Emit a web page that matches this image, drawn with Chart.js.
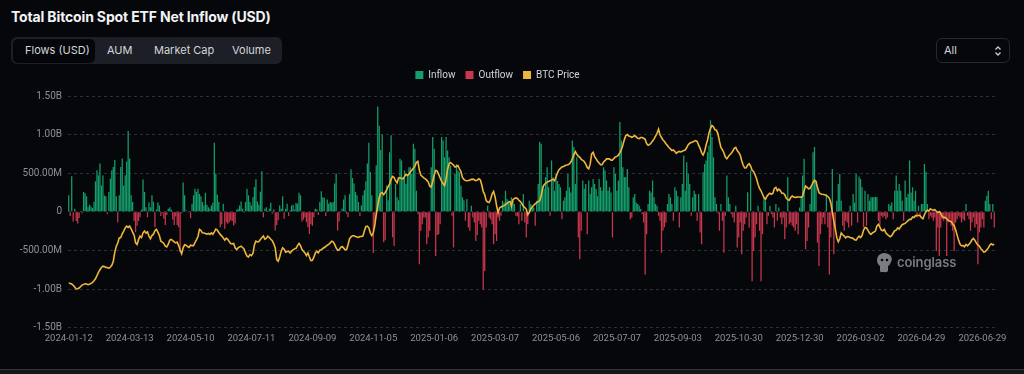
<!DOCTYPE html>
<html>
<head>
<meta charset="utf-8">
<script src="https://cdn.jsdelivr.net/npm/chart.js@4.4.1/dist/chart.umd.min.js"></script>
<style>
  html, body { margin: 0; padding: 0; background: #06070a; }
  body { width: 1024px; height: 374px; position: relative; overflow: hidden; font-family: Inter, Roboto, "Noto Sans", sans-serif; }
  #title { position: absolute; left: 11px; top: 8px; color: #f2f3f5; font-weight: 700; font-size: 14px; letter-spacing: -0.15px; white-space: nowrap; }
  #tabs { position: absolute; left: 11px; top: 37px; width: 271px; height: 27px; background: #1c1f25; border-radius: 6px; }
  .tab { position: absolute; top: 0; height: 27px; line-height: 27px; font-size: 11px; color: #d3d6dc; white-space: nowrap; }
  #tabSel { position: absolute; left: 1.5px; top: 1.5px; width: 82px; height: 24px; background: #050609; border-radius: 5px; }
  #sel { position: absolute; left: 936px; top: 38px; width: 72px; height: 23px; border: 1px solid #25282e; border-radius: 6px; }
  #sel span { position: absolute; left: 7px; top: 0; line-height: 23px; font-size: 11px; color: #d3d6dc; }
  #sel svg { position: absolute; right: 7px; top: 6px; }
  #wrap { position: absolute; left: 0; top: 60px; width: 1024px; height: 289px; }
  #wm { position: absolute; left: 876px; top: 252px; height: 22px; pointer-events: none; opacity: 0.85; }
  #wm span { position: absolute; left: 21px; top: 2px; font-size: 13px; font-weight: 600; color: #8f9196; white-space: nowrap; letter-spacing: -0.1px; }
  #bottomLine { position: absolute; left: 0; top: 369px; width: 1024px; height: 5px; background: #15171b; border-top: 1px solid #34363b; }
</style>
</head>
<body>
<div id="title">Total Bitcoin Spot ETF Net Inflow (USD)</div>
<div id="tabs">
  <div id="tabSel"></div>
  <div class="tab" style="left:14px">Flows (USD)</div>
  <div class="tab" style="left:96px">AUM</div>
  <div class="tab" style="left:143px">Market Cap</div>
  <div class="tab" style="left:221px">Volume</div>
</div>
<div id="sel"><span>All</span>
  <svg width="8" height="12" viewBox="0 0 8 12"><path d="M1.5 4.5 L4 2 L6.5 4.5 M1.5 7.5 L4 10 L6.5 7.5" stroke="#c9ccd2" stroke-width="1.3" fill="none"/></svg>
</div>
<div id="wrap"><canvas id="c"></canvas></div>
<div id="wm">
  <svg width="17" height="21" viewBox="0 0 17 21"><path d="M3 3 Q8 -1 14 3 Q17 6 15 10 Q14 13 12 14 L12 19 Q10 21 8 20 L6 20 Q4 21 4 18 L4 14 Q1 12 1 8 Q1 5 3 3 Z" fill="#8f9196"/><circle cx="6" cy="8" r="1.3" fill="#06070a"/><circle cx="11" cy="8" r="1.3" fill="#06070a"/></svg>
  <span>coinglass</span>
</div>
<div id="bottomLine"></div>
<script>
// Daily net flow, USD millions
const flowsM = [
  213,-56,460,-126,40,-120,-150,-80,10,-20,
  256,240,200,60,90,70,50,130,395,538,
  473,625,340,470,210,200,-30,256,430,538,
  580,670,200,-135,213,580,690,340,473,650,
  1046,690,213,126,-120,-265,-180,-120,-70,30,
  420,256,60,-70,120,60,213,130,-200,30,
  120,80,-56,-20,-90,-170,-40,40,60,30,
  -100,-170,-60,-170,
  -200,-525,-20,378,213,20,-10,10,-82,104,
  213,300,260,300,230,200,126,80,247,90,
  60,40,80,117,894,495,221,126,-200,-160,
  104,-221,-135,-155,-135,-110,-120,-178,-150,26,
  40,80,134,40,-13,126,300,213,126,80,
  190,321,421,134,90,260,525,-70,40,60,
  10,40,117,-26,30,-243,-170,-110,80,40,
  200,-90,40,104,
  -56,20,80,90,30,117,104,247,213,-126,
  -100,-70,-135,-200,-286,-160,-180,-70,40,30,
  -40,126,265,190,182,-56,160,104,126,117,
  126,365,495,-243,-126,-10,40,160,213,-26,
  -70,230,551,438,365,256,213,126,-56,80,
  213,280,395,625,894,516,213,-534,-135,603,
  1363,1115,800,1000,-395,-370,340,150,772,990,
  -330,-443,360,
  187,150,686,664,447,534,360,490,577,577,
  490,881,816,273,-30,-681,-247,-161,-74,-74,
  -421,-334,-247,577,968,816,-573,-300,-291,-161,
  968,924,707,968,794,707,600,-52,-464,490,
  620,534,512,339,187,150,-117,165,-204,-247,
  78,-74,-139,-378,-300,-117,-161,-204,-1007,-768,
  -204,78,-74,-100,-161,-421,-291,-378,-74,-117,
  -52,143,120,273,165,143,100,187,143,100,
  -52,-60,-161,100,-117,230,-139,-334,-161,143,
  100,78,56,-182,143,360,903,881,339,300,
  447,577,317,-52,664,447,273,490,400,360,
  317,-95,143,187,273,490,317,250,924,838,
  360,707,-334,-616,-247,404,300,360,-291,404,
  230,317,425,360,295,200,425,317,273,577,
  534,404,273,317,250,-334,577,490,273,404,
  1163,924,577,450,447,556,317,-95,-74,187,
  230,122,100,78,35,-30,-139,-812,-291,100,
  273,250,404,187,100,78,-52,-117,-529,-247,
  -200,-139,100,230,187,100,-117,317,273,200,
  -204,
  187,360,729,273,642,490,360,-52,187,273,
  230,-120,230,-269,-421,512,620,664,772,860,
  1185,968,707,187,100,-22,-247,100,-117,-529,
  -52,469,187,100,-30,-74,-139,78,-464,-334,
  -139,-551,-247,-161,-74,252,-204,534,-898,-508,
  -334,-161,78,-247,-898,-291,187,143,-161,-52,
  78,-30,-74,-204,100,-117,56,-74,-161,-74,
  -356,-204,447,-161,-139,-182,-204,-247,-161,-291,
  56,187,469,686,-486,-378,-204,100,317,772,
  838,404,-400,-703,-291,-161,-74,-161,230,-204,
  -812,-334,556,-551,-204,143,360,490,143,-182,
  -247,-117,-139,-204,78,-182,230,122,490,-139,
  456,425,317,-204,273,-182,230,143,187,187,
  187,195,187,-117,-182,-52,-74,-52,-95,-74,
  100,78,122,-95,273,469,273,360,273,143,
  -117,404,187,230,664,250,317,143,273,-74,
  78,-52,100,100,620,520,100,-95,-52,-74,
  -117,-74,-508,-204,-573,-204,-95,-117,-74,-573,
  -139,-95,-182,-247,-508,-139,-95,-52,-74,-139,
  -95,-117,100,-52,-95,-247,-139,-74,-204,-161,
  -681,-269,-204,-95,-204,143,208,273,100,-95,
  100,-204
];

// BTC price, USD thousands
const btcPriceK = [
  43.1,42.9,42.6,41.9,41.0,40.0,40.1,40.5,41.3,42.0,
  42.4,42.7,42.6,42.2,42.4,42.9,43.4,44.3,45.3,46.9,
  48.6,50.0,51.1,51.8,51.6,51.2,51.1,50.7,51.4,52.3,
  54.4,59.1,62.2,63.8,66.5,66.7,68.6,70.0,71.6,72.6,
  71.9,72.6,71.2,69.5,67.9,63.9,63.1,65.7,67.4,66.7,
  69.1,70.0,69.0,69.6,67.4,66.0,67.7,68.4,70.2,70.9,
  69.5,67.7,64.8,64.3,63.6,62.2,61.8,63.2,65.3,65.7,
  65.1,64.4,63.9,64.3,
  62.5,60.1,58.3,61.3,62.9,62.7,62.0,61.5,62.7,62.5,
  62.5,64.1,65.6,67.2,70.9,70.3,69.1,69.0,68.8,68.4,
  68.8,68.3,69.1,68.4,69.6,71.0,70.5,69.3,68.3,67.4,
  66.5,65.3,66.3,65.7,64.6,63.6,63.4,63.6,61.3,60.4,
  61.3,61.8,62.2,61.5,60.8,58.7,57.0,56.6,57.8,57.3,
  58.5,63.0,64.8,64.4,64.6,65.6,66.7,67.4,65.8,66.2,
  67.4,66.7,65.8,65.0,63.4,61.3,55.2,54.4,56.6,59.6,
  61.3,60.6,59.1,59.4,
  59.6,58.7,59.6,60.3,60.8,61.1,62.5,63.6,62.5,60.4,
  59.6,58.7,57.3,58.7,56.6,54.7,54.9,56.5,58.7,59.6,
  58.7,60.1,60.3,61.0,61.5,62.0,62.7,63.1,63.9,64.8,
  64.4,63.1,61.3,60.1,60.3,61.5,62.0,61.3,60.3,60.3,
  62.9,66.0,67.0,67.6,67.6,67.2,67.0,66.7,67.2,67.2,
  67.4,70.0,72.3,72.6,71.7,69.1,67.7,69.1,73.0,78.7,
  83.0,87.4,89.6,90.0,88.9,90.0,91.4,93.0,94.3,96.9,
  98.3,97.8,96.1,95.0,
  97.5,97.6,97.3,97.1,98.2,99.4,98.8,99.5,100.8,101.6,
  102.5,103.7,105.6,106.1,101.6,99.0,98.3,97.6,97.1,96.4,
  95.4,93.3,92.8,95.7,99.0,101.5,101.1,99.4,97.5,95.7,
  94.5,93.6,96.8,102.0,104.9,105.5,104.9,104.2,103.2,103.5,
  103.9,102.3,100.8,97.8,96.8,96.2,96.1,96.2,96.4,96.8,
  96.9,96.6,96.1,96.4,97.1,96.6,94.0,90.5,88.9,85.8,
  85.1,84.8,86.5,89.3,90.5,87.7,83.2,79.6,82.0,82.5,
  82.9,83.2,83.7,84.3,85.0,85.3,83.0,86.3,86.9,87.2,
  86.9,86.0,85.3,84.3,82.9,82.2,81.3,78.5,79.7,81.5,
  82.5,83.4,84.1,84.8,85.3,85.6,88.4,92.2,94.0,94.8,
  95.4,95.7,96.1,96.4,96.9,96.2,98.0,100.2,101.8,102.5,
  103.2,103.5,103.9,104.2,104.4,104.8,105.8,107.4,109.5,111.2,
  109.8,108.8,108.2,107.2,106.7,106.0,104.7,103.0,102.3,104.7,
  110.0,110.8,108.6,107.4,106.2,105.3,104.4,104.4,105.8,106.5,
  107.4,107.4,107.4,106.8,106.8,107.7,108.4,108.7,109.3,110.7,
  112.2,114.6,117.4,119.5,120.0,119.3,119.0,118.6,119.0,119.5,
  118.8,118.1,117.9,118.5,118.5,118.1,117.6,115.3,114.5,114.8,
  115.7,116.7,117.8,119.2,120.7,122.8,119.9,118.5,117.2,116.4,
  115.3,114.3,113.3,112.6,111.7,112.0,111.2,110.3,111.0,111.3,
  111.0,
  111.4,111.7,112.0,113.3,114.8,115.5,115.9,116.2,116.6,116.9,
  116.4,114.5,112.9,110.7,109.4,111.2,114.5,117.2,120.9,123.2,
  124.7,124.0,122.5,122.3,120.4,116.6,113.3,112.2,110.6,108.4,
  107.5,108.6,109.6,110.3,111.5,112.9,113.4,111.7,110.8,109.4,
  106.5,104.1,102.7,102.8,104.2,104.9,103.7,101.5,100.9,99.2,
  97.1,94.3,92.1,90.9,89.1,87.4,86.5,88.1,89.0,89.6,
  89.1,89.6,92.1,92.6,90.9,91.7,91.0,89.6,89.6,88.8,
  87.0,86.3,86.0,87.4,88.2,87.7,87.4,87.6,87.7,87.7,
  87.6,88.1,91.0,93.3,92.7,91.9,92.2,93.5,95.2,96.4,
  95.7,92.6,90.0,89.3,89.1,89.0,88.8,88.4,87.9,87.0,
  84.6,79.7,75.2,71.2,66.6,64.5,66.0,69.0,68.1,67.4,
  66.5,67.2,67.1,66.7,66.5,66.2,65.5,65.3,66.5,67.4,
  66.7,67.7,70.4,71.9,71.6,70.4,69.0,68.3,69.1,69.5,
  70.0,72.6,73.5,72.1,70.5,70.2,70.9,69.1,68.3,67.6,
  67.1,67.6,69.0,70.2,70.5,71.7,71.1,72.3,73.3,73.7,
  74.0,74.7,75.4,76.1,76.1,77.3,77.0,78.0,78.0,78.2,
  78.0,77.0,76.4,78.5,80.1,80.8,80.4,81.5,81.1,80.9,
  81.1,80.3,79.6,80.1,79.2,77.5,77.1,77.0,76.3,75.6,
  75.2,74.9,73.8,72.8,70.7,67.9,65.2,63.2,62.4,62.5,
  61.9,63.1,62.4,63.2,64.1,65.5,66.2,65.2,63.8,62.7,
  62.2,60.8,60.1,59.1,59.4,60.3,61.3,62.7,63.4,62.9,
  63.2,63.2
];

// x-axis tick labels, one every 41 trading days
const tickLabels = ['2024-01-12','2024-03-13','2024-05-10','2024-07-11','2024-09-09','2024-11-05',
  '2025-01-06','2025-03-07','2025-05-06','2025-07-07','2025-09-03','2025-10-30','2025-12-30',
  '2026-03-02','2026-04-29','2026-06-29'];
const tickEvery = 41;

// y-axis tick values
const yTicks = [-1.5e9, -1e9, -5e8, 0, 5e8, 1e9, 1.5e9];

const categories = flowsM.map((_, i) => (i % tickEvery === 0 && tickLabels[i / tickEvery]) ? tickLabels[i / tickEvery] : 'd' + i);
const inflow = flowsM.map(v => v > 0 ? v * 1e6 : null);
const outflow = flowsM.map(v => v < 0 ? v * 1e6 : null);
const price = btcPriceK.map(v => v * 1000);

function fmt(v) {
  if (v === 0) return '0';
  const a = Math.abs(v);
  if (a >= 1e9) return (v / 1e9).toFixed(2) + 'B';
  return (v / 1e6).toFixed(2) + 'M';
}

const legendSpace = {
  id: 'legendSpace',
  beforeInit(chart) {
    const orig = chart.legend.fit;
    chart.legend.fit = function () { orig.bind(this)(); this.height += 6; };
  }
};

Chart.defaults.font.family = 'Roboto, Inter, sans-serif';

new Chart(document.getElementById('c'), {
  data: {
    labels: categories,
    datasets: [
      { type: 'bar', label: 'Inflow', data: inflow, backgroundColor: '#139e6b', borderWidth: 0,
        grouped: false, categoryPercentage: 1, barPercentage: 0.85, yAxisID: 'y', order: 2 },
      { type: 'bar', label: 'Outflow', data: outflow, backgroundColor: '#c8374d', borderWidth: 0,
        grouped: false, categoryPercentage: 1, barPercentage: 0.85, yAxisID: 'y', order: 2 },
      { type: 'line', label: 'BTC Price', data: price, borderColor: '#efb63c', backgroundColor: '#efb63c',
        borderWidth: 1.6, pointRadius: 0, tension: 0, yAxisID: 'y1', order: 0 }
    ]
  },
  options: {
    responsive: true,
    maintainAspectRatio: false,
    animation: false,
    layout: { padding: { left: 0, right: 29, top: 0, bottom: 0 } },
    plugins: {
      tooltip: { enabled: false },
      legend: {
        position: 'top',
        labels: {
          color: '#d2d5da', boxWidth: 8, boxHeight: 8, padding: 10,
          font: { size: 10 },
          sort: (a, b) => a.datasetIndex - b.datasetIndex,
          generateLabels(chart) {
            return chart.data.datasets.map((ds, i) => ({
              text: ds.label, fillStyle: ds.backgroundColor, strokeStyle: ds.backgroundColor,
              lineWidth: 0, fontColor: '#d2d5da', datasetIndex: i, hidden: false
            }));
          }
        }
      }
    },
    scales: {
      x: {
        grid: { display: false, drawTicks: false },
        border: { display: false },
        ticks: {
          color: '#8d9099', font: { size: 9.5 }, autoSkip: false, maxRotation: 0, minRotation: 0, padding: 5,
          callback: (v, i) => (i % tickEvery === 0 && tickLabels[i / tickEvery]) ? tickLabels[i / tickEvery] : ''
        }
      },
      y: {
        position: 'left',
        min: -1.5e9, max: 1.5e9,
        afterBuildTicks: (s) => { s.ticks = yTicks.map(v => ({ value: v })); },
        afterFit: (s) => { s.width = 68; },
        grid: { color: '#2c2f37', lineWidth: 1, drawTicks: false },
        border: { display: false, dash: [3, 3] },
        ticks: { color: '#8d9099', font: { size: 10 }, padding: 6, callback: (v) => fmt(v) }
      },
      y1: { display: false, min: 20000, max: 140000 }
    }
  },
  plugins: [legendSpace]
});
</script>
</body>
</html>
